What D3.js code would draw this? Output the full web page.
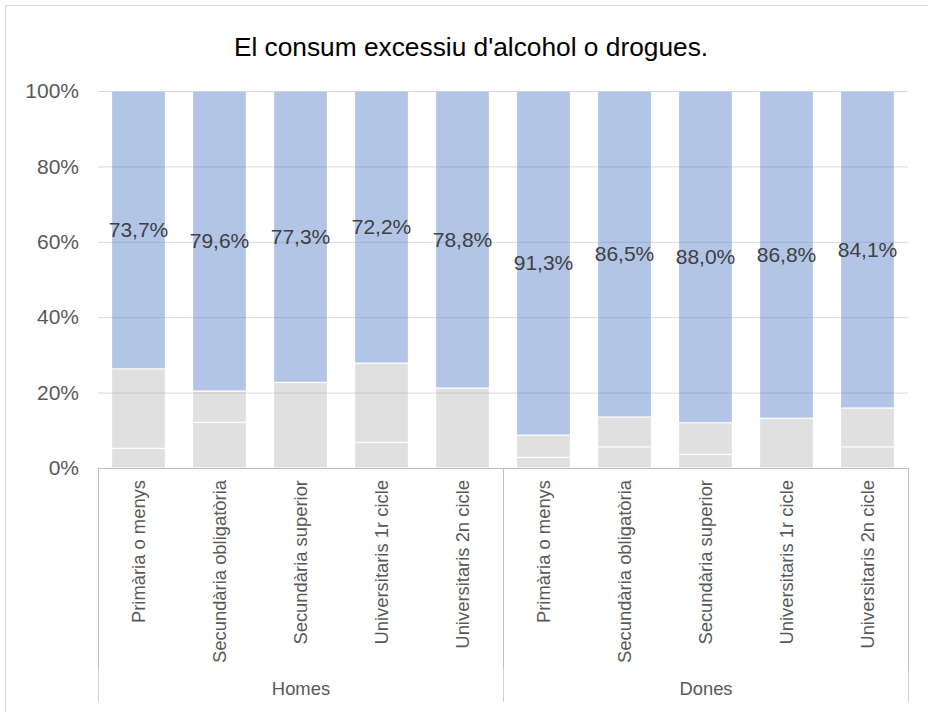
<!DOCTYPE html>
<html><head><meta charset="utf-8">
<script src="https://cdn.jsdelivr.net/npm/d3@7"></script>
<style>body{margin:0;background:#fff;}svg{display:block;font-family:"Liberation Sans",Arial,sans-serif;}</style>
</head><body>
<svg id="c" width="928" height="712"></svg>
<script>
const title = "El consum excessiu d'alcohol o drogues.";
const groups = ["Homes", "Dones"];
const categories = ["Primària o menys", "Secundària obligatòria", "Secundària superior", "Universitaris 1r cicle", "Universitaris 2n cicle"];
const grayLow  = [5.2, 12.1, 0, 6.8, 0, 2.8, 5.6, 3.6, 0, 5.6];
const grayHigh = [21.1, 8.3, 22.7, 21.0, 21.2, 5.9, 7.9, 8.4, 13.2, 10.3];
const blueValues = [73.7, 79.6, 77.3, 72.2, 78.8, 91.3, 86.5, 88.0, 86.8, 84.1];
const yTicks = [0, 20, 40, 60, 80, 100];

const rows = [];
groups.forEach((g, gi) => categories.forEach((c, ci) => {
  const i = gi * categories.length + ci;
  rows.push({key: i, group: g, cat: c, g1: grayLow[i], g2: grayHigh[i], blue: blueValues[i]});
}));

const svg = d3.select("#c");
const L = 98, R = 908, T = 91, B = 468;
const x = d3.scaleBand().domain(rows.map(d => d.key)).range([L, R]).paddingInner(1/3).paddingOuter(1/6);
const y = d3.scaleLinear().domain([0, 100]).range([B, T]);

// frame
svg.append("rect").attr("x", 5.5).attr("y", 5.5).attr("width", 940).attr("height", 720)
  .attr("fill", "none").attr("stroke", "#d9d9d9");

// title
svg.append("text").attr("x", 471).attr("y", 56).attr("text-anchor", "middle")
  .attr("font-size", 26.3).attr("fill", "#000").text(title);

// gridlines
svg.append("g").selectAll("line").data(yTicks.filter(t => t > 0)).join("line")
  .attr("x1", L).attr("x2", R).attr("y1", d => y(d) + 0.5).attr("y2", d => y(d) + 0.5)
  .attr("stroke", "#d9d9d9").attr("stroke-width", 1);

// y axis labels
const yAxis = d3.axisLeft(y).tickValues(yTicks).tickFormat(d => d + "%").tickSize(0).tickPadding(19);
const ya = svg.append("g").attr("transform", `translate(${L},0)`).call(yAxis);
ya.select(".domain").remove();
ya.selectAll("text").attr("font-size", 21).attr("fill", "#595959").attr("font-family", "Liberation Sans, Arial, sans-serif");

// stacked bars
const stack = d3.stack().keys(["g1", "g2", "blue"]);
const series = stack(rows);
const colors = {g1: "rgba(165,165,165,0.34)", g2: "rgba(165,165,165,0.34)", blue: "rgba(68,114,196,0.41)"};
svg.append("g").selectAll("g").data(series).join("g")
  .attr("fill", s => colors[s.key])
  .selectAll("rect").data(s => s.filter(d => d[1] - d[0] > 0)).join("rect")
  .attr("x", d => x(d.data.key) + 0.5)
  .attr("width", x.bandwidth() - 1)
  .attr("y", d => y(d[1]) + 0.5)
  .attr("height", d => y(d[0]) - y(d[1]) - 1)
  .attr("stroke", "rgba(255,255,255,0.25)").attr("stroke-width", 1);

// data labels
const fmt = v => v.toFixed(1).replace(".", ",") + "%";
const blueSeries = series.find(s => s.key === "blue");
svg.append("g").selectAll("text").data(blueSeries).join("text")
  .attr("x", d => x(d.data.key) + x.bandwidth() / 2)
  .attr("y", d => y((d[0] + d[1]) / 2))
  .attr("dy", "0.35em").attr("text-anchor", "middle")
  .attr("font-size", 21).attr("fill", "#404040")
  .text(d => fmt(d.data.blue));

// category axis box
const ax = svg.append("g");
ax.append("line").attr("x1", L).attr("x2", R + 0.5).attr("y1", B + 0.5).attr("y2", B + 0.5).attr("stroke", "#bfbfbf");
const groupEdges = [L, x(rows[5].key) - (x.step() - x.bandwidth()) / 2, R];
groupEdges.forEach(e => {
  ax.append("line").attr("x1", e + 0.5).attr("x2", e + 0.5).attr("y1", B).attr("y2", 668).attr("stroke", "#bfbfbf");
  ax.append("line").attr("x1", e + 0.5).attr("x2", e + 0.5).attr("y1", 668).attr("y2", 702).attr("stroke", "#d0d0d0");
});

// category labels
ax.selectAll("text.cat").data(rows).join("text").attr("class", "cat")
  .attr("transform", d => `translate(${x(d.key) + x.bandwidth() / 2},480) rotate(-90)`)
  .attr("dy", "0.35em").attr("text-anchor", "end")
  .attr("font-size", 18.4).attr("fill", "#595959")
  .text(d => d.cat);

// group labels
ax.selectAll("text.grp").data(groups).join("text").attr("class", "grp")
  .attr("x", (d, i) => (groupEdges[i] + groupEdges[i + 1]) / 2 + 0.5)
  .attr("y", 695).attr("text-anchor", "middle")
  .attr("font-size", 18.4).attr("fill", "#595959")
  .text(d => d);
</script>
</body></html>
